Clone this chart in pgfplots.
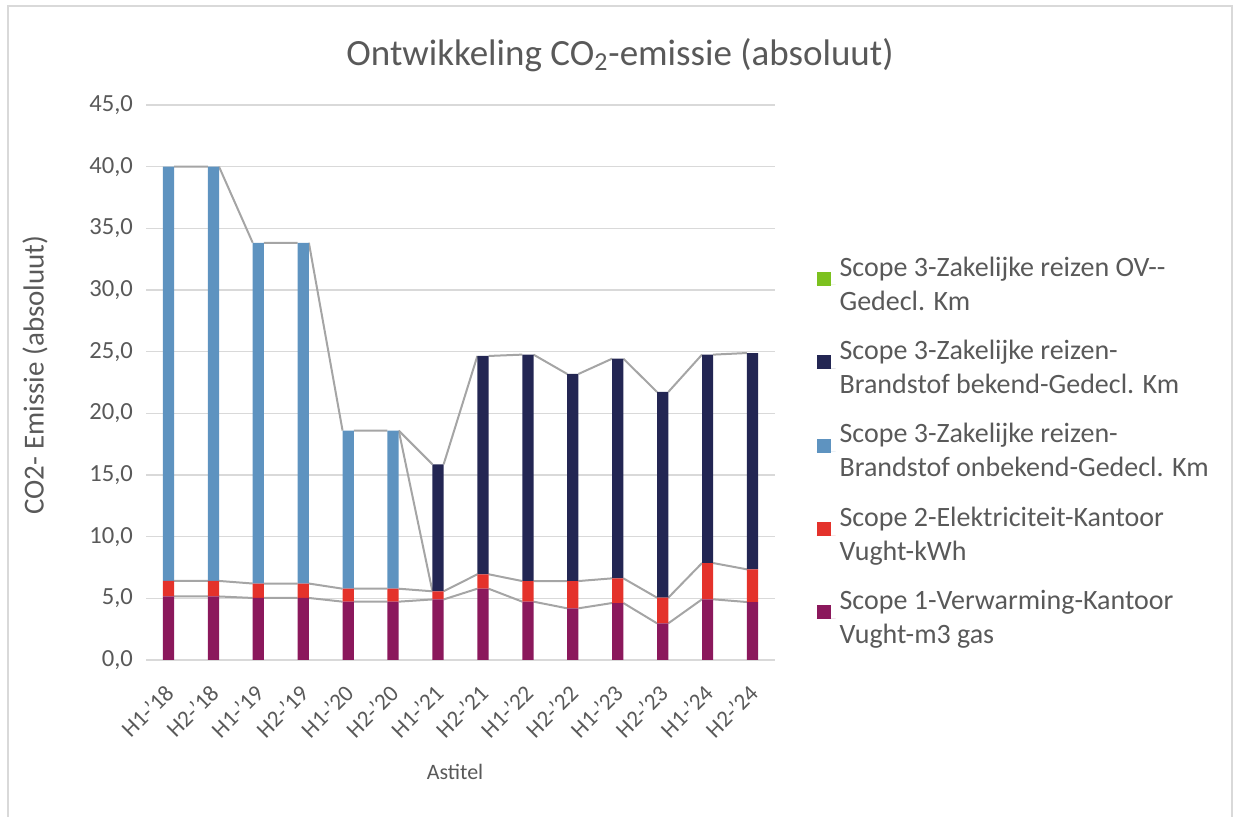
\documentclass[border=0pt]{standalone}
\usepackage{pgfplots}
\pgfplotsset{compat=1.18}
\usepackage{fontspec}
\setmainfont{Carlito}
\definecolor{sPurple}{HTML}{8B185C}
\definecolor{sRed}{HTML}{E4322B}
\definecolor{sLight}{HTML}{5E93C0}
\definecolor{sNavy}{HTML}{232653}
\definecolor{sGreen}{HTML}{7CC11F}
\definecolor{txt}{HTML}{595959}
\definecolor{gridc}{HTML}{D9D9D9}
\definecolor{serl}{HTML}{A5A5A5}
\definecolor{framec}{HTML}{D9D9D9}

% stacked segments per half-year (H1-'18 ... H2-'24)
\pgfplotstableread{
x  s1    s2    s3onb  s3bek  s3ov
0  5.15  1.26  33.59  0.00   0
1  5.15  1.26  33.59  0.00   0
2  5.03  1.17  27.63  0.00   0
3  5.03  1.17  27.63  0.00   0
4  4.73  1.05  12.82  0.00   0
5  4.73  1.05  12.82  0.00   0
6  4.91  0.66  0.00   10.30  0
7  5.78  1.17  0.00   17.70  0
8  4.73  1.67  0.00   18.36  0
9  4.19  2.21  0.00   16.79  0
10 4.62  2.00  0.00   17.81  0
11 2.97  2.08  0.00   16.68  0
12 4.92  2.94  0.00   16.90  0
13 4.70  2.65  0.00   17.54  0
}\datatable

\begin{document}
\begin{tikzpicture}
\path[use as bounding box] (0,0) rectangle (617pt,408.5pt);
\draw[framec, line width=1pt] (4pt,0pt) -- (4pt,405.5pt) -- (616pt,405.5pt) -- (616pt,0pt);

% background axis: grid + series lines
\begin{axis}[
  at={(73pt,78.5pt)}, anchor=south west,
  scale only axis, width=314.5pt, height=277.5pt,
  xmin=-0.5, xmax=13.5, ymin=0, ymax=45,
  axis line style={draw=none}, major tick length=0pt,
  xtick=\empty, ytick={0,5,...,45}, yticklabels={},
  ymajorgrids, grid style={gridc, line width=0.8pt},
  unbounded coords=jump,
]
\addplot[serl, line width=1pt] coordinates {
(0.125,5.15) (0.875,5.15) (1,nan) (1.125,5.15) (1.875,5.03) (2,nan) (2.125,5.03) (2.875,5.03) (3,nan)
(3.125,5.03) (3.875,4.73) (4,nan) (4.125,4.73) (4.875,4.73) (5,nan) (5.125,4.73) (5.875,4.91) (6,nan)
(6.125,4.91) (6.875,5.78) (7,nan) (7.125,5.78) (7.875,4.73) (8,nan) (8.125,4.73) (8.875,4.19) (9,nan)
(9.125,4.19) (9.875,4.62) (10,nan) (10.125,4.62) (10.875,2.97) (11,nan) (11.125,2.97) (11.875,4.92) (12,nan)
(12.125,4.92) (12.875,4.70)};
\addplot[serl, line width=1pt] coordinates {
(0.125,6.41) (0.875,6.41) (1,nan) (1.125,6.41) (1.875,6.20) (2,nan) (2.125,6.20) (2.875,6.20) (3,nan)
(3.125,6.20) (3.875,5.78) (4,nan) (4.125,5.78) (4.875,5.78) (5,nan) (5.125,5.78) (5.875,5.57) (6,nan)
(6.125,5.57) (6.875,6.95) (7,nan) (7.125,6.95) (7.875,6.40) (8,nan) (8.125,6.40) (8.875,6.40) (9,nan)
(9.125,6.40) (9.875,6.62) (10,nan) (10.125,6.62) (10.875,5.05) (11,nan) (11.125,5.05) (11.875,7.86) (12,nan)
(12.125,7.86) (12.875,7.35)};
\addplot[serl, line width=1pt] coordinates {
(0.125,40.00) (0.875,40.00) (1,nan) (1.125,40.00) (1.875,33.83) (2,nan) (2.125,33.83) (2.875,33.83) (3,nan)
(3.125,33.83) (3.875,18.60) (4,nan) (4.125,18.60) (4.875,18.60) (5,nan) (5.125,18.60) (5.875,5.57)};
\addplot[serl, line width=1pt] coordinates {
(5.125,18.60) (5.875,15.87) (6,nan)
(6.125,15.87) (6.875,24.65) (7,nan) (7.125,24.65) (7.875,24.76) (8,nan) (8.125,24.76) (8.875,23.19) (9,nan)
(9.125,23.19) (9.875,24.43) (10,nan) (10.125,24.43) (10.875,21.73) (11,nan) (11.125,21.73) (11.875,24.76) (12,nan)
(12.125,24.76) (12.875,24.89)};
\end{axis}

% foreground axis: bars, ticks, legend
\begin{axis}[
  at={(73pt,78.5pt)}, anchor=south west,
  scale only axis, width=314.5pt, height=277.5pt,
  xmin=-0.5, xmax=13.5, ymin=0, ymax=45,
  ybar stacked, bar width=0.25,
  axis line style={draw=none}, major tick length=0pt,
  ytick={0,5,...,45},
  xtick={0,...,13},
  xticklabels={H1-'18,H2-'18,H1-'19,H2-'19,H1-'20,H2-'20,H1-'21,H2-'21,H1-'22,H2-'22,H1-'23,H2-'23,H1-'24,H2-'24},
  /pgf/number format/assume math mode=true,
  /pgf/number format/fixed, /pgf/number format/fixed zerofill,
  /pgf/number format/precision=1, /pgf/number format/use comma,
  yticklabel style={font=\fontsize{12.3}{14}\selectfont, text=txt, xshift=-3pt},
  xticklabel style={font=\fontsize{11.6}{14}\selectfont, text=txt, xshift=3pt, yshift=-12pt, rotate=45, anchor=east},
  reverse legend,
  legend cell align=left,
  legend style={at={(1.056,0.742)}, anchor=north west, draw=none, fill=none,
    font=\fontsize{14}{17}\selectfont, text=txt, cells={align=left},
    row sep=9.5pt},
  legend image code/.code={\path (0pt,0pt) -- (9.5pt,0pt); \fill[#1] (0pt,-0.5pt) rectangle (7pt,6.5pt);},
]
\addplot[fill=sPurple, draw=none] table[x=x, y=s1] {\datatable};
\addlegendentry{Scope 1-Verwarming-Kantoor\\Vught-m3 gas}
\addplot[fill=sRed, draw=none] table[x=x, y=s2] {\datatable};
\addlegendentry{Scope 2-Elektriciteit-Kantoor\\Vught-kWh}
\addplot[fill=sLight, draw=none] table[x=x, y=s3onb] {\datatable};
\addlegendentry{Scope 3-Zakelijke reizen-\\Brandstof onbekend-Gedecl. Km}
\addplot[fill=sNavy, draw=none] table[x=x, y=s3bek] {\datatable};
\addlegendentry{Scope 3-Zakelijke reizen-\\Brandstof bekend-Gedecl. Km}
\addplot[fill=sGreen, draw=none] table[x=x, y=s3ov] {\datatable};
\addlegendentry{Scope 3-Zakelijke reizen OV-{}-\\Gedecl. Km}
\end{axis}

\node[text=txt, font=\fontsize{18.5}{22}\selectfont] at (310pt,381pt) {Ontwikkeling CO\textsubscript{2}-emissie (absoluut)};
\node[text=txt, font=\fontsize{14.5}{17}\selectfont, rotate=90] at (17.5pt,221pt) {CO2- Emissie (absoluut)};
\node[text=txt, font=\fontsize{11}{13}\selectfont] at (227.5pt,22.5pt) {Astitel};
\end{tikzpicture}
\end{document}
